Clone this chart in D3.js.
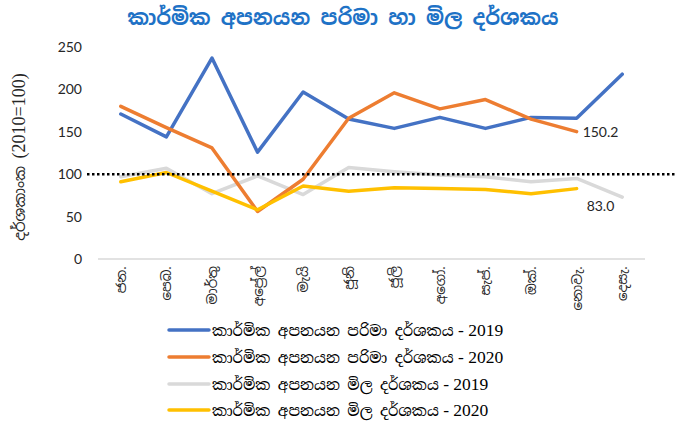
<!DOCTYPE html>
<html>
<head>
<meta charset="utf-8">
<script src="https://d3js.org/d3.v7.min.js"></script>
<style>
    body { margin: 0; background: #fff; }
    svg { display: block; }
</style>
</head>
<body>
<div id="chart"></div>
<script>
    const months = ["ජන.", "පෙබ.", "මාර්තු", "අප්‍රේල්", "මැයි", "ජූනි", "ජූලි", "අගෝ.", "සැප්.", "ඔක්.", "නොවැ.", "දෙසැ."]
    const vol2019 = [171, 144, 237, 126, 197, 165, 154, 167, 154, 167, 166, 218]
    const vol2020 = [180, 155, 131, 56, 94, 166, 196, 177, 188, 165, 150.2]
    const price2019 = [97, 107, 77, 98, 76, 108, 103, 99, 97, 91, 95, 73]
    const price2020 = [91, 102, 80, 58, 86, 80, 84, 83, 82, 77, 83.0]
    const yTicks = [0, 50, 100, 150, 200, 250]
    const baseValue = 100

    const seriesNames = [
        "කාර්මික අපනයන පරිමා දර්ශකය",
        "කාර්මික අපනයන පරිමා දර්ශකය",
        "කාර්මික අපනයන මිල දර්ශකය",
        "කාර්මික අපනයන මිල දර්ශකය"
    ]
    const seriesYears = ["2019", "2020", "2019", "2020"]
    const colors = ["#4472C4", "#ED7D31", "#D9D9D9", "#FFC000"]
    const seriesData = [vol2019, vol2020, price2019, price2020]

    const width = 675
    const height = 424
    const sinhala = "'Iskoola Pota', 'Noto Sans Sinhala', 'Noto Serif Sinhala', 'Noto Sans', sans-serif"

    const svg = d3.select("#chart").append("svg")
        .attr("width", width)
        .attr("height", height)

    const x = d3.scalePoint()
        .domain(months)
        .range([98, 645])
        .padding(0.5)

    const y = d3.scaleLinear()
        .domain([0, 250])
        .range([259, 47])

    // title
    svg.append("text")
        .attr("x", 343)
        .attr("y", 25)
        .attr("text-anchor", "middle")
        .attr("font-family", sinhala)
        .attr("font-size", 20.5)
        .attr("font-weight", "bold")
        .attr("fill", "#1E72C6")
        .text("කාර්මික අපනයන පරිමා හා මිල දර්ශකය")

    // y axis tick labels
    svg.append("g")
        .selectAll("text")
        .data(yTicks)
        .enter()
        .append("text")
        .attr("x", 82)
        .attr("y", d => y(d) + 5)
        .attr("text-anchor", "end")
        .attr("font-family", "Lato, 'Open Sans', sans-serif")
        .attr("font-size", 14)
        .attr("fill", "#262626")
        .text(d => d)

    // zero line
    svg.append("line")
        .attr("x1", 98)
        .attr("x2", 645)
        .attr("y1", y(0))
        .attr("y2", y(0))
        .attr("stroke", "#D9D9D9")
        .attr("stroke-width", 1.5)

    // y title
    const yTitle = svg.append("text")
        .attr("transform", "translate(25,157) rotate(-90)")
        .attr("text-anchor", "middle")
        .attr("fill", "#262626")
    yTitle.append("tspan")
        .attr("font-family", sinhala)
        .attr("font-size", 15)
        .text("දර්ශකාංක  ")
    yTitle.append("tspan")
        .attr("font-family", "'Liberation Serif', serif")
        .attr("font-size", 18)
        .text("(2010=100)")

    // month labels
    svg.append("g")
        .selectAll("text")
        .data(months)
        .enter()
        .append("text")
        .attr("transform", d => "translate(" + (x(d) + 5) + ",266) rotate(-90)")
        .attr("text-anchor", "end")
        .attr("font-family", sinhala)
        .attr("font-size", 13.5)
        .attr("fill", "#262626")
        .text(d => d)

    const line = d3.line()
        .x((d, i) => x(months[i]))
        .y(d => y(d))

    const drawOrder = [2, 0, 1, 3]
    drawOrder.forEach(k => {
        svg.append("path")
            .datum(seriesData[k])
            .attr("d", line)
            .attr("fill", "none")
            .attr("stroke", colors[k])
            .attr("stroke-width", 3.5)
            .attr("stroke-linejoin", "round")
            .attr("stroke-linecap", "round")
    })

    // dotted base line at 100
    svg.append("line")
        .attr("x1", 87)
        .attr("x2", 675)
        .attr("y1", y(baseValue))
        .attr("y2", y(baseValue))
        .attr("stroke", "#000")
        .attr("stroke-width", 2.5)
        .attr("stroke-dasharray", "2.5,2.5")

    // data labels
    const lastVol = vol2020.length - 1
    svg.append("text")
        .attr("x", x(months[lastVol]) + 6)
        .attr("y", y(vol2020[lastVol]) + 5)
        .attr("font-family", "Lato, 'Open Sans', sans-serif")
        .attr("font-size", 14)
        .attr("fill", "#262626")
        .text(vol2020[lastVol].toFixed(1))

    const lastPrice = price2020.length - 1
    svg.append("text")
        .attr("x", x(months[lastPrice]) + 10)
        .attr("y", y(price2020[lastPrice]) + 22)
        .attr("font-family", "Lato, 'Open Sans', sans-serif")
        .attr("font-size", 14)
        .attr("fill", "#262626")
        .text(price2020[lastPrice].toFixed(1))

    // legend
    const legend = svg.append("g")
    const legendY = [330, 357, 384, 410]
    seriesNames.forEach((name, i) => {
        legend.append("line")
            .attr("x1", 169)
            .attr("x2", 209)
            .attr("y1", legendY[i])
            .attr("y2", legendY[i])
            .attr("stroke", colors[i])
            .attr("stroke-width", 3.5)
            .attr("stroke-linecap", "round")
        const t = legend.append("text")
            .attr("x", 212)
            .attr("y", legendY[i] + 6)
            .attr("fill", "#000")
        t.append("tspan")
            .attr("font-family", "'Iskoola Pota', 'Noto Serif Sinhala', 'Noto Sans Sinhala', serif")
            .attr("font-size", 15)
            .text(name)
        t.append("tspan")
            .attr("font-family", "'Liberation Serif', serif")
            .attr("font-size", 17.5)
            .text(" - " + seriesYears[i])
    })
</script>
</body>
</html>
